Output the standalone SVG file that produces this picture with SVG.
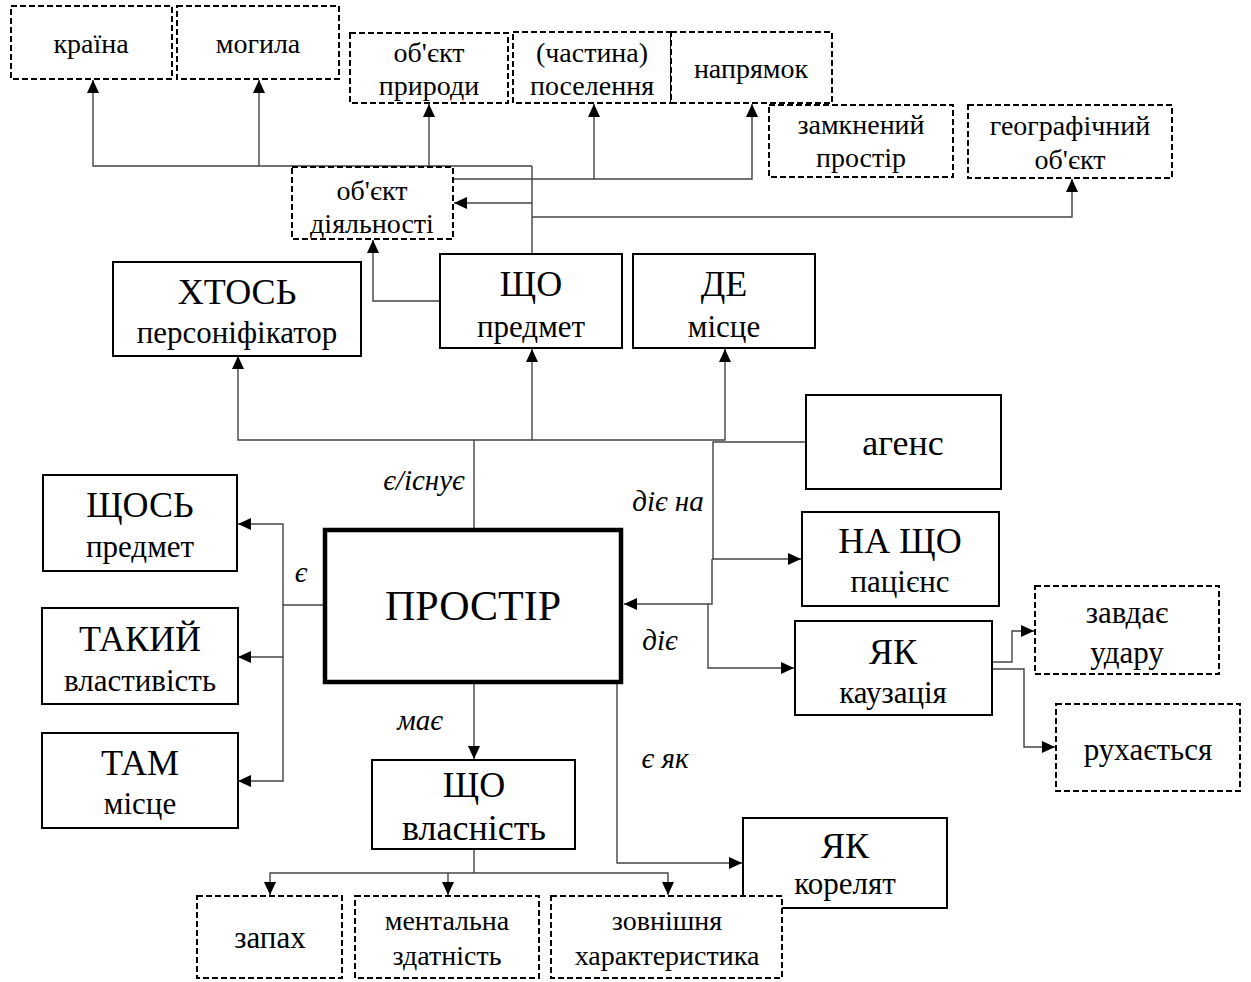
<svg xmlns="http://www.w3.org/2000/svg" width="1251" height="982" viewBox="0 0 1251 982">
<style>
text{font-family:"Liberation Serif","Times New Roman",serif;fill:#000;text-anchor:middle}
.s{font-size:28px}
.m{font-size:31px}
.t{font-size:36px}
.big{font-size:42px}
.lab{font-size:29px;font-style:italic}
.box{fill:#fff;stroke:#000;stroke-width:2}
.dash{fill:#fff;stroke:#000;stroke-width:2;stroke-dasharray:6 3}
.main{fill:#fff;stroke:#000;stroke-width:4.5}
.c{fill:none;stroke:#444;stroke-width:1.4}
.a{marker-end:url(#ah)}
</style>
<defs>
<marker id="ah" markerUnits="userSpaceOnUse" markerWidth="13" markerHeight="12" refX="13" refY="6" orient="auto">
<path d="M0,0 L13,6 L0,12 z" fill="#000"/>
</marker>
</defs>
<rect width="1251" height="982" fill="#fff"/>
<g id="connectors">
<path class="c" d="M474,529 V440"/>
<path class="c a" d="M474,440 H238 V356"/>
<path class="c a" d="M474,440 H532 V349"/>
<path class="c a" d="M532,440 H725 V349"/>
<path class="c" d="M532,254 V166"/>
<path class="c a" d="M532,166 H93 V80"/>
<path class="c a" d="M259,166 V80"/>
<path class="c a" d="M429,166 V104"/>
<path class="c a" d="M453,179 H752 V104"/>
<path class="c a" d="M594,179 V104"/>
<path class="c a" d="M532,203 H454"/>
<path class="c a" d="M532,217 H1072 V179"/>
<path class="c a" d="M440,301 H373 V240"/>
<path class="c" d="M806,442 H713 V559"/>
<path class="c a" d="M712,559 H801"/>
<path class="c a" d="M712,559 V604 H624"/>
<path class="c a" d="M708,604 V668 H794"/>
<path class="c" d="M325,605 H283"/>
<path class="c a" d="M283,605 V524 H238"/>
<path class="c a" d="M283,605 V657 H238"/>
<path class="c a" d="M283,657 V781 H238"/>
<path class="c a" d="M474,683 V759"/>
<path class="c a" d="M617,683 V863 H742"/>
<path class="c" d="M474,850 V873"/>
<path class="c a" d="M474,873 H270 V895"/>
<path class="c a" d="M448,873 V895"/>
<path class="c a" d="M474,873 H668 V895"/>
<path class="c a" d="M988,662 H1012 V631 H1034"/>
<path class="c a" d="M988,669 H1024 V747 H1055"/>
</g>
<g id="label-exists"><text class="lab" x="424" y="490">є/існує</text></g>
<g id="label-acts-on"><text class="lab" x="668" y="511">діє на</text></g>
<g id="label-acts"><text class="lab" x="660" y="650">діє</text></g>
<g id="label-is"><text class="lab" x="301" y="582">є</text></g>
<g id="label-has"><text class="lab" x="420" y="730">має</text></g>
<g id="label-is-as"><text class="lab" x="665" y="768">є як</text></g>

<g id="n-kraina"><rect class="dash" x="11" y="6" width="161" height="73"/><text class="s" x="91" y="53">країна</text></g>
<g id="n-mohyla"><rect class="dash" x="177" y="6" width="162" height="73"/><text class="s" x="258" y="53">могила</text></g>
<g id="n-pryrody"><rect class="dash" x="350" y="33" width="158" height="70"/><text class="s" x="429" y="62">об'єкт</text><text class="s" x="429" y="95">природи</text></g>
<g id="n-poselennia"><rect class="dash" x="513" y="32" width="158" height="71"/><text class="s" x="592" y="62">(частина)</text><text class="s" x="592" y="95">поселення</text></g>
<g id="n-napriamok"><rect class="dash" x="671" y="32" width="161" height="71"/><text class="s" x="751" y="78">напрямок</text></g>
<g id="n-zamknenyi"><rect class="dash" x="769" y="105" width="184" height="72"/><text class="s" x="861" y="134">замкнений</text><text class="s" x="861" y="167">простір</text></g>
<g id="n-heohrafichnyi"><rect class="dash" x="968" y="105" width="204" height="73"/><text class="s" x="1070" y="135">географічний</text><text class="s" x="1070" y="169">об'єкт</text></g>
<g id="n-diialnosti"><rect class="dash" x="292" y="167" width="161" height="72"/><text class="s" x="372" y="200">об'єкт</text><text class="s" x="372" y="233">діяльності</text></g>

<g id="n-khtos"><rect class="box" x="113" y="262" width="248" height="94"/><text class="t" x="237" y="304">ХТОСЬ</text><text class="m" x="237" y="343">персоніфікатор</text></g>
<g id="n-shcho-predmet"><rect class="box" x="440" y="254" width="182" height="94"/><text class="t" x="531" y="296">ЩО</text><text class="m" x="531" y="337">предмет</text></g>
<g id="n-de"><rect class="box" x="633" y="254" width="182" height="94"/><text class="t" x="724" y="296">ДЕ</text><text class="m" x="724" y="337">місце</text></g>
<g id="n-ahens"><rect class="box" x="806" y="395" width="195" height="94"/><text class="t" x="903" y="455">агенс</text></g>
<g id="n-shchos"><rect class="box" x="43" y="475" width="194" height="96"/><text class="t" x="140" y="517">ЩОСЬ</text><text class="m" x="140" y="557">предмет</text></g>
<g id="n-prostir"><rect class="main" x="325" y="530" width="296" height="152"/><text class="big" x="473" y="620">ПРОСТІР</text></g>
<g id="n-na-shcho"><rect class="box" x="802" y="512" width="197" height="94"/><text class="t" x="900" y="553">НА ЩО</text><text class="m" x="900" y="592">пацієнс</text></g>
<g id="n-yak-kauzatsiia"><rect class="box" x="795" y="621" width="197" height="94"/><text class="t" x="893" y="664">ЯК</text><text class="m" x="893" y="703">каузація</text></g>
<g id="n-zavdaie"><rect class="dash" x="1035" y="586" width="184" height="88"/><text class="m" x="1127" y="623">завдає</text><text class="m" x="1127" y="663">удару</text></g>
<g id="n-rukhaietsia"><rect class="dash" x="1056" y="704" width="184" height="87"/><text class="m" x="1148" y="760">рухається</text></g>
<g id="n-takyi"><rect class="box" x="42" y="608" width="196" height="96"/><text class="t" x="140" y="651">ТАКИЙ</text><text class="m" x="140" y="691">властивість</text></g>
<g id="n-tam"><rect class="box" x="42" y="733" width="196" height="95"/><text class="t" x="140" y="775">ТАМ</text><text class="m" x="140" y="814">місце</text></g>
<g id="n-shcho-vlasnist"><rect class="box" x="372" y="760" width="203" height="89"/><text class="t" x="474" y="797">ЩО</text><text class="t" x="474" y="840">власність</text></g>
<g id="n-yak-koreliat"><rect class="box" x="743" y="818" width="204" height="90"/><text class="t" x="845" y="858">ЯК</text><text class="m" x="845" y="894">корелят</text></g>
<g id="n-zapakh"><rect class="dash" x="197" y="896" width="145" height="82"/><text class="m" x="270" y="948">запах</text></g>
<g id="n-mentalna"><rect class="dash" x="355" y="896" width="184" height="82"/><text class="s" x="447" y="930">ментальна</text><text class="s" x="447" y="965">здатність</text></g>
<g id="n-zovnishnia"><rect class="dash" x="551" y="896" width="231" height="82"/><text class="s" x="667" y="930">зовнішня</text><text class="s" x="667" y="965">характеристика</text></g>
</svg>
